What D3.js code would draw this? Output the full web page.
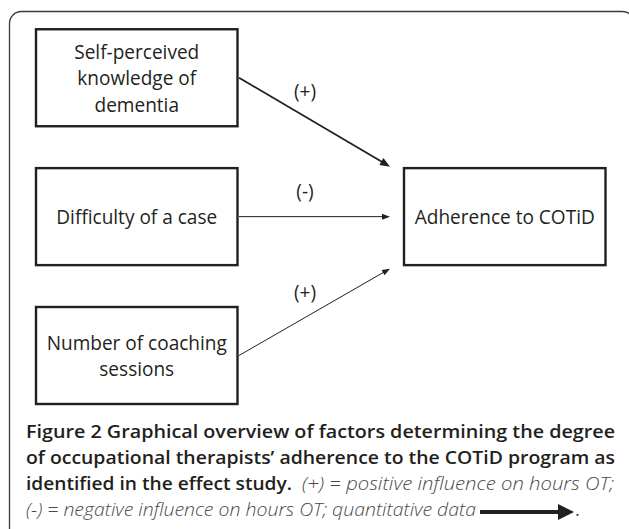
<!DOCTYPE html>
<html><head><meta charset="utf-8">
<script src="https://cdn.jsdelivr.net/npm/d3@7"></script>
<style>
html,body{margin:0;padding:0;background:#fff;}
svg{display:block;}
</style></head>
<body>
<svg id="chart" width="629" height="529"></svg>
<script>
// ---- data ----
const factors = ["Self-perceived knowledge of dementia", "Difficulty of a case", "Number of coaching sessions"];
const factorLines = [["Self-perceived", "knowledge of", "dementia"], ["Difficulty of a case"], ["Number of coaching", "sessions"]];
const signs = ["(+)", "(-)", "(+)"];
const arrowWeights = ["thick", "thin", "thin"];
const outcome = "Adherence to COTiD";
const captionBold = ["Figure 2 Graphical overview of factors determining the degree",
                     "of occupational therapists\u2019 adherence to the COTiD program as",
                     "identified in the effect study."];
const captionItalic = ["(+) = positive influence on hours OT;",
                       "(-) = negative influence on hours OT; quantitative data"];

// ---- drawing ----
const svg = d3.select("#chart");
const ink = "#231f20";
const boxW = 201.5, boxH = 97;

const col = d3.scalePoint().domain(["factor", "outcome"]).range([36, 404]);
const row = d3.scalePoint().domain(factors).range([77.75, 355.5]);
const outY = row(factors[1]);

// outer frame
svg.append("rect").attr("x", 9.5).attr("y", 11.5).attr("width", 625).attr("height", 530)
  .attr("rx", 12).attr("fill", "none").attr("stroke", "#3a3a3a").attr("stroke-width", 1.3);

const boxFont = "'Open Sans', sans-serif";
const boxSize = 20.5;

function fitText(sel, target) {
  const n = sel.node();
  const w = n.getComputedTextLength();
  if (w > 0 && target) sel.attr("textLength", target).attr("lengthAdjust", "spacingAndGlyphs");
  return w;
}

// measure compression ratio for box font (Calibri-like width)
const probe = svg.append("text").attr("font-family", boxFont).attr("font-size", boxSize).text(outcome);
const ratio = 180 / probe.node().getComputedTextLength();
probe.remove();

function boxText(g, lines, cx, cy) {
  const lh = 26.7;
  lines.forEach((t, i) => {
    const tx = g.append("text")
      .attr("x", cx).attr("y", cy + (i - (lines.length - 1) / 2) * lh + 7.5)
      .attr("text-anchor", "middle")
      .attr("font-family", boxFont).attr("font-size", boxSize).attr("fill", ink)
      .text(t);
    const w = tx.node().getComputedTextLength();
    tx.attr("textLength", w * ratio).attr("lengthAdjust", "spacingAndGlyphs");
  });
}

// factor boxes
const fg = svg.append("g");
factors.forEach((f, i) => {
  const cy = row(f);
  fg.append("rect").attr("x", col("factor")).attr("y", cy - boxH / 2)
    .attr("width", boxW).attr("height", boxH)
    .attr("fill", "none").attr("stroke", ink).attr("stroke-width", 2.4);
  boxText(fg, factorLines[i], col("factor") + boxW / 2, cy);
});

// outcome box
svg.append("rect").attr("x", col("outcome")).attr("y", outY - boxH / 2)
  .attr("width", boxW).attr("height", boxH)
  .attr("fill", "none").attr("stroke", ink).attr("stroke-width", 2.4);
boxText(svg, [outcome], col("outcome") + boxW / 2, outY);

// arrows
const startX = col("factor") + boxW + 1.5;
const tipX = col("outcome") - 14;
const tipYs = [outY - boxH / 2 - 1.5, outY, outY + boxH / 2 + 3.5];
function arrow(x1, y1, x2, y2, sw, hl, hw) {
  const a = Math.atan2(y2 - y1, x2 - x1);
  const bx = x2 - hl * Math.cos(a), by = y2 - hl * Math.sin(a);
  svg.append("line").attr("x1", x1).attr("y1", y1).attr("x2", bx + Math.cos(a)).attr("y2", by + Math.sin(a))
    .attr("stroke", ink).attr("stroke-width", sw);
  const px = -Math.sin(a) * hw, py = Math.cos(a) * hw;
  svg.append("path")
    .attr("d", `M${x2},${y2}L${bx + px},${by + py}L${bx - px},${by - py}Z`)
    .attr("fill", ink);
}
factors.forEach((f, i) => {
  const y1 = row(f), y2 = tipYs[i];
  const thick = arrowWeights[i] === "thick";
  arrow(startX, y1, tipX, y2, thick ? 1.8 : 1, thick ? 10 : 8, thick ? 4 : 3);
  const lx = 305;
  const ly = y1 + (y2 - y1) * (lx - startX) / (tipX - startX);
  svg.append("text").attr("x", lx).attr("y", ly - 19)
    .attr("text-anchor", "middle").attr("font-family", boxFont).attr("font-size", boxSize)
    .attr("fill", ink).text(signs[i])
    .call(s => { const w = s.node().getComputedTextLength(); s.attr("textLength", w * ratio).attr("lengthAdjust", "spacingAndGlyphs"); });
});

// caption
const capFont = "'Open Sans', sans-serif";
const capSize = 18.5;
const base = [438, 464, 490, 516];
const left = 26;
function capText(x, y, t, bold, width) {
  const s = svg.append("text").attr("x", x).attr("y", y)
    .attr("font-family", capFont).attr("font-size", capSize)
    .attr("font-weight", bold ? 600 : 300)
    .attr("font-style", bold ? "normal" : "italic")
    .attr("fill", bold ? ink : "#4a4a4a")
    .text(t);
  fitText(s, width);
  return s;
}
capText(left, base[0], captionBold[0], true, 589);
capText(left, base[1], captionBold[1], true, 589);
capText(left, base[2], captionBold[2], true, 266);
capText(302, base[2], captionItalic[0], false, 312);
capText(left, base[3], captionItalic[1], false, 450);
// legend arrow for quantitative data
arrow(480, 512, 574, 512, 3.8, 16, 8);
svg.append("text").attr("x", 575).attr("y", base[3]).attr("font-family", capFont)
  .attr("font-size", capSize).attr("fill", "#4a4a4a").text(".");
</script>
</body></html>
